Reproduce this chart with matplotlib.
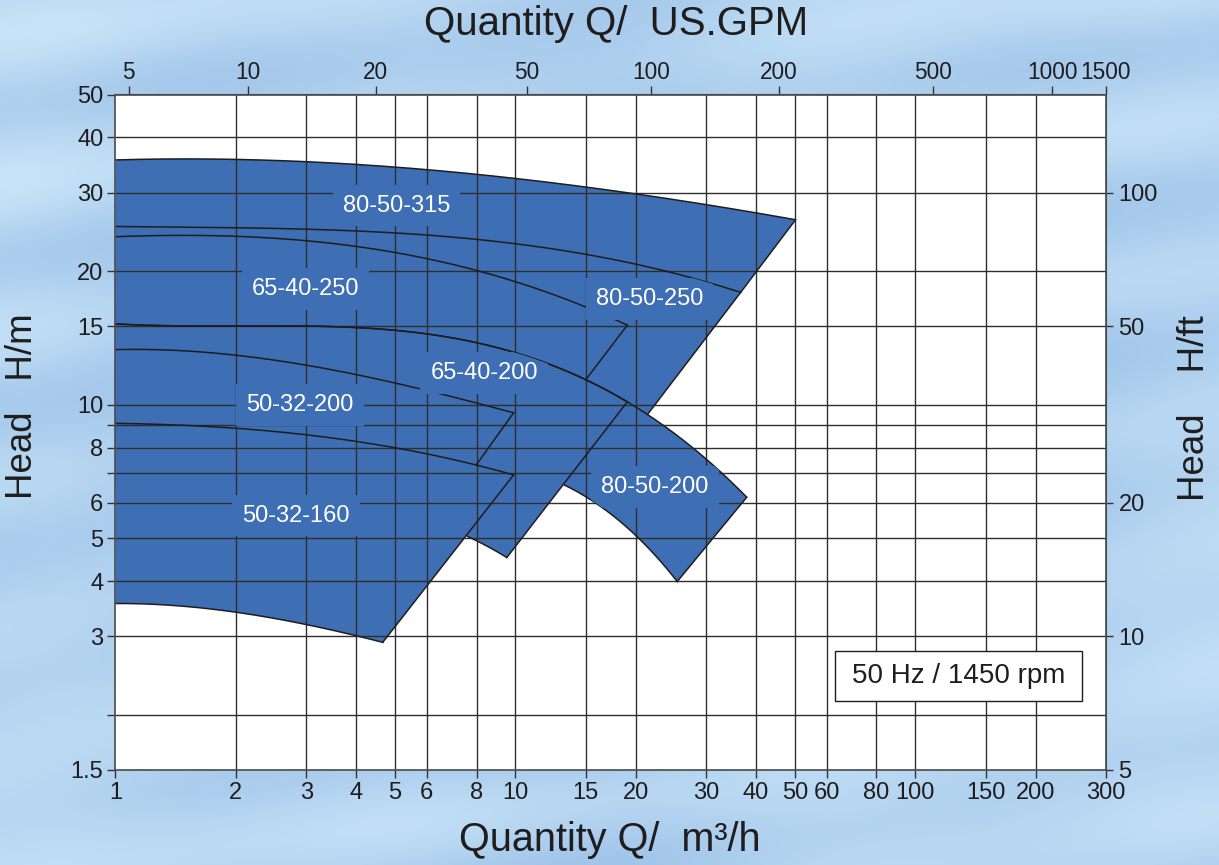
import numpy as np
import matplotlib
matplotlib.use("Agg")
import matplotlib.pyplot as plt
from matplotlib.patches import Polygon, Rectangle
from matplotlib.path import Path
from matplotlib.ticker import NullLocator

plt.rcParams['font.family'] = ['Liberation Sans', 'DejaVu Sans']

# ---------------- data ----------------
x_ticks = [1, 2, 3, 4, 5, 6, 8, 10, 15, 20, 30, 40, 50, 60, 80, 100, 150, 200, 300]
x_grid = [2, 3, 4, 5, 6, 8, 10, 15, 20, 30, 40, 50, 60, 80, 100, 150, 200]
y_ticks_labeled = [1.5, 3, 4, 5, 6, 8, 10, 15, 20, 30, 40, 50]
y_ticks_unlabeled = [2, 7, 9]
y_grid = [2, 3, 4, 5, 6, 7, 8, 9, 10, 15, 20, 30, 40]
ft_ticks = [5, 10, 20, 50, 100]
FT_PER_M = 10.0 / 3.0          # scale as printed on the chart
gpm_labels = ['5', '10', '20', '50', '100', '200', '500', '1000', '1500']
gpm_pos_m3h = [1.08, 2.14, 4.47, 10.7, 21.9, 45.7, 110.5, 220, 300]

# pump curves: Q (m3/h), H (m)
q_8050315_top = [1, 2, 3, 5, 8, 10, 20, 30, 50.2]
h_8050315_top = [35.6, 35.9, 35.1, 34.4, 33.0, 32.2, 30.0, 28.2, 26.1]
q_8050250_top = [1, 2, 3, 5, 8, 10, 15, 20, 30, 36.6]
h_8050250_top = [25.2, 25.1, 24.8, 24.3, 23.6, 23.1, 21.9, 20.6, 18.9, 17.9]
q_6540250_top = [1, 2, 3, 4, 5, 6, 8, 10, 15, 19.05]
h_6540250_top = [23.9, 23.9, 23.5, 22.7, 22.0, 21.4, 20.0, 18.8, 16.8, 15.1]
q_200_top = [1, 2, 3, 5, 8, 10, 15, 19.05, 21.4, 25.9, 30.2, 33.9, 37.9]
h_200_top = [15.2, 15.2, 15.1, 14.6, 13.7, 13.0, 11.4, 10.1, 9.55, 8.46, 7.57, 6.94, 6.18]
q_5032200_top = [1, 1.97, 2.95, 3.93, 4.95, 6.24, 7.98, 9.9]
h_5032200_top = [13.3, 12.9, 12.3, 11.8, 11.2, 10.6, 10.1, 9.58]
q_5032160_top = [1, 1.97, 2.95, 3.96, 4.95, 5.93, 7.98, 9.9]
h_5032160_top = [9.07, 8.84, 8.57, 8.29, 7.97, 7.77, 7.31, 6.94]
q_5032160_bot = [1, 1.97, 2.95, 3.96, 4.66]
h_5032160_bot = [3.56, 3.41, 3.20, 3.02, 2.91]
q_6540200_bot = [1, 3, 5, 7.55, 9.52]
h_6540200_bot = [6.4, 6.1, 5.7, 5.08, 4.52]
q_8050200_bot = [1, 5, 10, 13.18, 14.83, 19.8, 23.1, 25.4]
h_8050200_bot = [7.8, 7.5, 6.95, 6.55, 6.25, 5.30, 4.70, 3.99]
q_6540200_end = 19.05
q_8050250_end_on_200 = 21.4
q_6540250_end_on_200 = 15.0
q_5032200_end_on_160 = 7.98

label_names = ['80-50-315', '80-50-250', '65-40-250', '80-50-200', '65-40-200', '50-32-200', '50-32-160']
label_q = [5.05, 21.68, 2.99, 22.35, 8.35, 2.895, 2.83]
label_h = [28.1, 17.27, 18.25, 6.52, 11.76, 9.96, 5.62]

BLUE = '#3e6eb4'
INK = '#1f1d1e'
GRID = '#2e2e2e'


def curve(q, h, qmax=None, n=200):
    """Smooth curve through the read points (polynomial in log-log space)."""
    lq = np.log10(q)
    lh = np.log10(h)
    w = np.ones(len(lq))
    w[0] = w[-1] = 30.0
    deg = min(3, len(lq) - 2)
    coef = np.polyfit(lq, lh, deg, w=w)
    end = lq[-1] if qmax is None else np.log10(qmax)
    xn = np.linspace(lq[0], end, n)
    return 10**xn, 10**np.polyval(coef, xn)


# ---------------- figure ----------------
W, H = 1219, 865
fig = plt.figure(figsize=(W / 100, H / 100), dpi=100)

# background (light blue sky-like texture)
bg = fig.add_axes([0, 0, 1, 1], zorder=-10)
u = np.linspace(0, 1, 300)
v = np.linspace(0, 1, 220)
U, V = np.meshgrid(u, v)
p = (0.55 + 0.22 * np.sin(2 * np.pi * (0.8 * U + 3.2 * V) + 0.7) * np.cos(2 * np.pi * (2.1 * V - 0.5 * U))
     + 0.16 * np.sin(2 * np.pi * (6 * V + 1.5 * U)) + 0.08 * np.cos(2 * np.pi * 3 * U))
p = np.clip(p, 0, 1)
c_dark = np.array([152, 190, 230]) / 255
c_light = np.array([200, 228, 248]) / 255
img = c_dark + (c_light - c_dark) * p[..., None]
bg.imshow(img, extent=[0, 1, 0, 1], aspect='auto', interpolation='bicubic')
bg.axis('off')

ax = fig.add_axes([115.5 / W, (H - 770) / H, 990.5 / W, 675.5 / H])
ax.set_facecolor('white')
ax.set_xscale('log')
ax.set_yscale('log')
ax.set_xlim(1, 300)
ax.set_ylim(1.5, 50)

# regions
top315 = curve(q_8050315_top, h_8050315_top)
topA = curve(q_8050250_top, h_8050250_top)
topB = curve(q_6540250_top, h_6540250_top)
topC = curve(q_200_top, h_200_top)
topD = curve(q_5032200_top, h_5032200_top)
topE = curve(q_5032160_top, h_5032160_top)
botE = curve(q_5032160_bot, h_5032160_bot)
bot65 = curve(q_6540200_bot, h_6540200_bot)
bot80 = curve(q_8050200_bot, h_8050200_bot)
c65 = curve(q_200_top, h_200_top, q_6540200_end)
cA = curve(q_200_top, h_200_top, q_8050250_end_on_200)
cB = curve(q_200_top, h_200_top, q_6540250_end_on_200)
eD = curve(q_5032160_top, h_5032160_top, q_5032200_end_on_160)

# same order as label_names
regions = [
    (top315, topA),   # 80-50-315
    (topA, cA),       # 80-50-250
    (topB, cB),       # 65-40-250
    (topC, bot80),    # 80-50-200
    (c65, bot65),     # 65-40-200
    (topD, eD),       # 50-32-200
    (topE, botE),     # 50-32-160
]

polys_log = []
patches = []
for top, bot in regions:
    qs = np.concatenate([top[0], bot[0][::-1]])
    hs = np.concatenate([top[1], bot[1][::-1]])
    pat = Polygon(np.column_stack([qs, hs]), closed=True, facecolor=BLUE,
                  edgecolor='none', zorder=1)
    ax.add_patch(pat)
    patches.append(pat)
    polys_log.append(Path(np.column_stack([np.log10(qs), np.log10(hs)])))

# grid
ax.vlines(x_grid, 1.5, 50, colors=GRID, linewidth=1.0, zorder=2)
ax.hlines(y_grid, 1, 300, colors=GRID, linewidth=1.0, zorder=2)

# curves: tops, right edges, visible parts of bottoms
for i, (top, bot) in enumerate(regions):
    ax.plot(top[0], top[1], color=INK, lw=1.1, zorder=3, solid_capstyle='round')
    ax.plot([top[0][-1], bot[0][-1]], [top[1][-1], bot[1][-1]], color=INK, lw=1.1, zorder=3)
    pts = np.column_stack([np.log10(bot[0]), np.log10(bot[1])])
    hidden = np.zeros(len(pts), bool)
    for j, pth in enumerate(polys_log):
        if j != i:
            hidden |= pth.contains_points(pts, radius=-1e-4)
    hv = np.where(hidden, np.nan, bot[1])
    ax.plot(bot[0], hv, color=INK, lw=1.1, zorder=3)

# pump labels (box clipped to its own region)
for name, q, h, pat in zip(label_names, label_q, label_h, patches):
    t = ax.text(q, h, name, color='white', fontsize=17, ha='center', va='center', zorder=5,
                bbox=dict(boxstyle='square,pad=0.42', fc=BLUE, ec='none'))
    t.set_clip_on(True)
    t.set_clip_path(pat)

# legend box
ax.add_patch(Rectangle((0.7264, 0.1021), 0.2494, 0.0741, transform=ax.transAxes,
                       facecolor='white', edgecolor=INK, linewidth=1.0, zorder=6))
ax.text(0.851, 0.1392, '50 Hz / 1450 rpm', transform=ax.transAxes, fontsize=20,
        color=INK, ha='center', va='center', zorder=7)

# ticks main
ax.set_xticks(x_ticks, labels=[f'{v:g}' for v in x_ticks])
yt = sorted(y_ticks_labeled + y_ticks_unlabeled)
ax.set_yticks(yt, labels=[f'{v:g}' if v in y_ticks_labeled else '' for v in yt])
ax.xaxis.set_minor_locator(NullLocator())
ax.yaxis.set_minor_locator(NullLocator())
ax.tick_params(axis='both', direction='out', length=5.8, width=1.0, color='#333333',
               labelsize=17, labelcolor=INK)
ax.tick_params(axis='x', pad=2.5)
ax.tick_params(axis='y', pad=3.0)
for s in ax.spines.values():
    s.set_color('#4a4a4a')
    s.set_linewidth(1.2)
    s.set_zorder(4)

# secondary axes
secy = ax.secondary_yaxis('right', functions=(lambda h: h * FT_PER_M, lambda f: f / FT_PER_M))
secy.set_yticks(ft_ticks, labels=[str(v) for v in ft_ticks])
secy.yaxis.set_minor_locator(NullLocator())
secy.tick_params(axis='y', direction='out', length=5, width=1.0, color='#333333',
                 labelsize=17, labelcolor=INK, pad=4)
secy.spines['right'].set_color('#4a4a4a')

secx = ax.secondary_xaxis('top', functions=(lambda q: q, lambda q: q))
secx.set_xticks(gpm_pos_m3h, labels=gpm_labels)
secx.xaxis.set_minor_locator(NullLocator())
secx.tick_params(axis='x', direction='out', length=5.8, width=1.0, color='#333333',
                 labelsize=16.3, labelcolor=INK, pad=2)
secx.spines['top'].set_color('#4a4a4a')

# axis titles
fig.text(0.5057, 0.9723, 'Quantity Q/  US.GPM', fontsize=29, color=INK, ha='center', va='center')
fig.text(0.5004, 0.0289, 'Quantity Q/  m\u00b3/h', fontsize=28.5, color=INK, ha='center', va='center')
fig.text(0.0185, 0.530, 'Head   H/m', fontsize=26.5, color=INK, ha='center', va='center', rotation=90)
fig.text(0.9803, 0.528, 'Head    H/ft', fontsize=26.5, color=INK, ha='center', va='center', rotation=90)

fig.savefig('out.png', dpi=100)
